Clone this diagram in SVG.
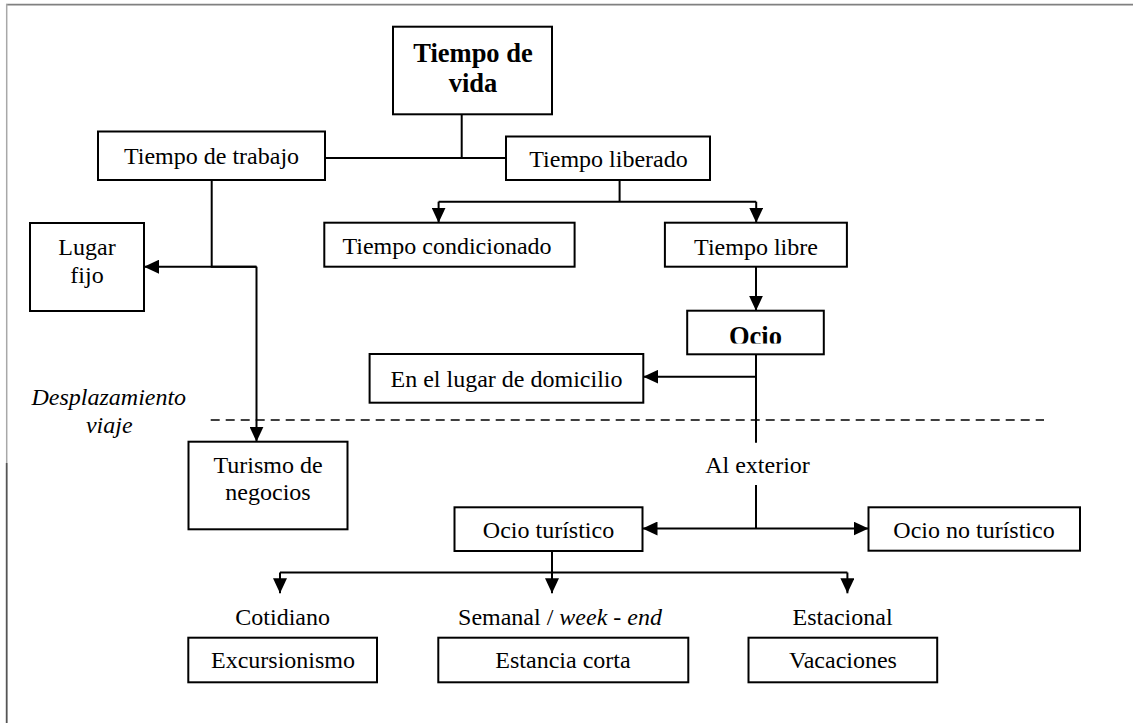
<svg xmlns="http://www.w3.org/2000/svg" width="1133" height="723" viewBox="0 0 1133 723">
<style>
.box{fill:#fff;stroke:#000;stroke-width:2}
.t{font-family:"Liberation Serif","Times New Roman",serif;font-size:24px;fill:#000;text-anchor:middle}
.b{font-weight:bold;font-size:26.5px}
.i{font-style:italic}
.ln{fill:none;stroke:#000;stroke-width:2}
.ar{marker-end:url(#ah)}
.dash{fill:none;stroke:#000;stroke-width:1.6;stroke-dasharray:9 6}
.frame{fill:none;stroke:#808080;stroke-width:1.8}
</style>
<defs>
<marker id="ah" markerUnits="userSpaceOnUse" markerWidth="16" markerHeight="14" refX="15" refY="7" orient="auto">
<path d="M0,0 L15,7 L0,14 Z" fill="#000"/>
</marker>
<clipPath id="ocioClip"><rect x="688" y="311" width="135" height="32.5"/></clipPath>
</defs>
<rect width="1133" height="723" fill="#fff"/>
<path class="frame" d="M6,4.7 H1133"/>
<path fill="none" stroke="#a8a8a8" stroke-width="1.5" d="M6.7,4 V463"/>
<path fill="none" stroke="#555" stroke-width="1.8" d="M6.7,463 V723"/>
<g id="connectors">
<path class="ln" d="M461.7,114 V158 M325,158 H506"/>
<path class="ln" d="M619.6,180 V201.7 M438.6,201.7 H756.2"/>
<path class="ln ar" d="M438.6,201.7 V222.7"/>
<path class="ln ar" d="M756.2,201.7 V222.7"/>
<path class="ln" d="M211.7,180 V266.7 H256.5"/>
<path class="ln ar" d="M256.5,266.7 H144"/>
<path class="ln ar" d="M256.5,266.7 V441.7"/>
<path class="ln ar" d="M756,267 V310.7"/>
<path class="ln" d="M756,354 V442.7"/>
<path class="ln ar" d="M756,376.7 H643.3"/>
<path class="ln" d="M756,485 V528.5"/>
<path class="ln ar" d="M756,528.5 H642.5"/>
<path class="ln ar" d="M756,528.5 H868.5"/>
<path class="ln" d="M552,551 V572.5 M280,572.5 H847.4"/>
<path class="ln ar" d="M280,572.5 V593.3"/>
<path class="ln ar" d="M552,572.5 V593.3"/>
<path class="ln ar" d="M847.4,572.5 V593.3"/>
<path class="dash" d="M210.7,420 H1044"/>
</g>
<g id="tiempo-vida">
<rect class="box" x="393" y="26.7" width="159" height="87.6"/>
<text class="t b" x="473" y="61.7">Tiempo de</text>
<text class="t b" x="473" y="91.7">vida</text>
</g>
<g id="tiempo-trabajo">
<rect class="box" x="98" y="131.5" width="227" height="48.5"/>
<text class="t" x="211.5" y="164">Tiempo de trabajo</text>
</g>
<g id="tiempo-liberado">
<rect class="box" x="506" y="136.5" width="204" height="43.5"/>
<text class="t" x="608.5" y="166.5">Tiempo liberado</text>
</g>
<g id="tiempo-condicionado">
<rect class="box" x="324.3" y="222.7" width="250.3" height="44"/>
<text class="t" x="447" y="254">Tiempo condicionado</text>
</g>
<g id="tiempo-libre">
<rect class="box" x="664.9" y="222.7" width="182" height="44"/>
<text class="t" x="756" y="254.5">Tiempo libre</text>
</g>
<g id="lugar-fijo">
<rect class="box" x="30" y="223" width="114" height="88"/>
<text class="t" x="87" y="255">Lugar</text>
<text class="t" x="87" y="283">fijo</text>
</g>
<g id="ocio">
<rect class="box" x="687.2" y="310.7" width="136.6" height="43.6"/>
<text class="t b" x="755.5" y="345" clip-path="url(#ocioClip)">Ocio</text>
</g>
<g id="en-el-lugar">
<rect class="box" x="369.6" y="354" width="273.7" height="48.7"/>
<text class="t" x="506.5" y="386.7">En el lugar de domicilio</text>
</g>
<g id="desplazamiento">
<text class="t i" x="108.8" y="405">Desplazamiento</text>
<text class="t i" x="109.3" y="433.3">viaje</text>
</g>
<g id="turismo-negocios">
<rect class="box" x="188.5" y="441.7" width="159" height="87.6"/>
<text class="t" x="268" y="473.3">Turismo de</text>
<text class="t" x="268" y="500">negocios</text>
</g>
<g id="al-exterior">
<text class="t" x="757.5" y="472.7">Al exterior</text>
</g>
<g id="ocio-turistico">
<rect class="box" x="454.5" y="507.3" width="188" height="43.7"/>
<text class="t" x="548.5" y="538.3">Ocio turístico</text>
</g>
<g id="ocio-no-turistico">
<rect class="box" x="868.5" y="507.3" width="211.5" height="43.4"/>
<text class="t" x="974" y="538.3">Ocio no turístico</text>
</g>
<g id="cotidiano">
<text class="t" x="282.7" y="625">Cotidiano</text>
<rect class="box" x="188.3" y="637.7" width="188.7" height="44.6"/>
<text class="t" x="283" y="668.3">Excursionismo</text>
</g>
<g id="semanal">
<text class="t" x="560" y="625">Semanal / <tspan class="i">week - end</tspan></text>
<rect class="box" x="438.3" y="637.7" width="250" height="44.6"/>
<text class="t" x="563" y="668.3">Estancia corta</text>
</g>
<g id="estacional">
<text class="t" x="842.6" y="625">Estacional</text>
<rect class="box" x="748.5" y="637.7" width="188.7" height="44.6"/>
<text class="t" x="843" y="668.3">Vacaciones</text>
</g>
</svg>
